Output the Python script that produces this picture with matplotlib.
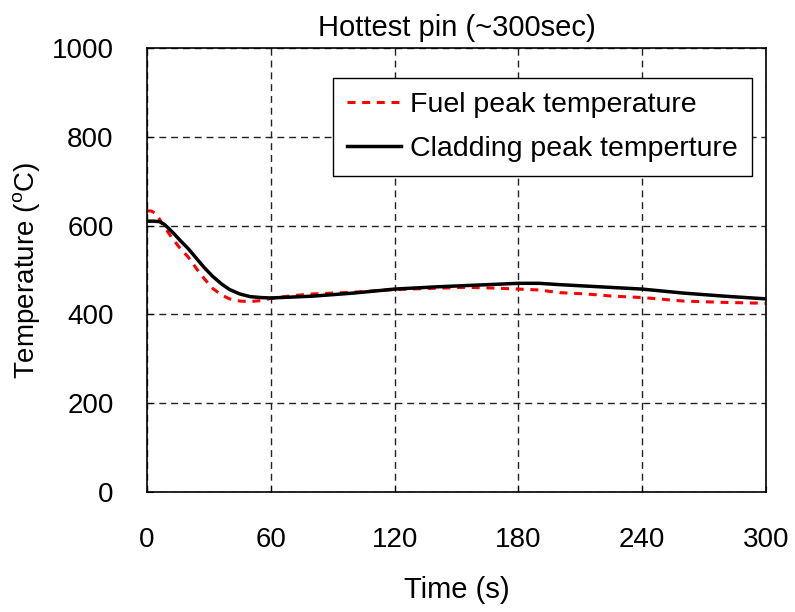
import matplotlib.pyplot as plt
import numpy as np

plt.rcParams['font.family'] = ['Liberation Sans', 'DejaVu Sans']
plt.rcParams['mathtext.fontset'] = 'custom'
plt.rcParams['mathtext.rm'] = 'Liberation Sans'

## values
fuel_t = [0, 2, 4, 6, 8, 12, 16, 20, 24, 28, 32, 36, 40, 45, 50, 55, 60, 70, 80,
          100, 120, 140, 155, 170, 180, 190, 200, 213, 226, 240, 260, 280, 300]
fuel_T = [633, 633, 628, 615, 600, 573, 549, 529, 503, 479, 458, 444, 435, 430,
          429, 431, 436, 442, 446, 450, 456, 459, 461, 459, 457, 455, 449, 446,
          441, 438, 430, 427, 425]

clad_t = [0, 3, 6, 8, 10, 13, 16, 20, 24, 28, 32, 36, 40, 45, 50, 55, 60, 80,
          100, 120, 140, 160, 180, 190, 200, 220, 240, 260, 280, 300]
clad_T = [610, 610, 609, 604, 596, 582, 567, 548, 526, 504, 485, 469, 456, 446,
          440, 438, 437, 441, 448, 457, 462, 466, 470, 470, 467, 462, 457, 448,
          441, 435]

xticks = [0, 60, 120, 180, 240, 300]
yticks = [0, 200, 400, 600, 800, 1000]

fig = plt.figure(figsize=(7.95, 6.12), dpi=100)
ax = fig.add_axes([147 / 795, 120 / 612, 619 / 795, 444 / 612])

ax.plot(fuel_t, fuel_T, color='red', lw=2.2, ls=(0, (2.6, 2.2)),
        label='Fuel peak temperature')
ax.plot(clad_t, clad_T, color='black', lw=2.5, label='Cladding peak temperture')

ax.set_xlim(0, 300)
ax.set_ylim(0, 1000)
ax.set_xticks(xticks)
ax.set_yticks(yticks)
ax.grid(True, color='#222222', ls=(0, (5, 3.5)), lw=1.0)
ax.tick_params(direction='in', labelsize=20, length=4)
ax.tick_params(axis='x', pad=25)
ax.tick_params(axis='y', pad=24)
for s in ax.spines.values():
    s.set_linewidth(1.2)

ax.set_xlabel('Time (s)', fontsize=21)
ax.xaxis.set_label_coords(0.5, -0.19)
ax.set_ylabel(r'Temperature ($^{\rm o}$C)', fontsize=20)
ax.yaxis.set_label_coords(-0.168, 0.5)
ax.set_title('Hottest pin (~300sec)', fontsize=21, pad=9)

leg = ax.legend(loc='upper right', bbox_to_anchor=(0.977, 0.932),
                borderaxespad=0, fontsize=20.5, fancybox=False, framealpha=1,
                edgecolor='black', handlelength=1.9, handletextpad=0.3,
                borderpad=0.5, labelspacing=0.62)
leg.get_frame().set_linewidth(1.0)

fig.savefig('out.png', dpi=100)
